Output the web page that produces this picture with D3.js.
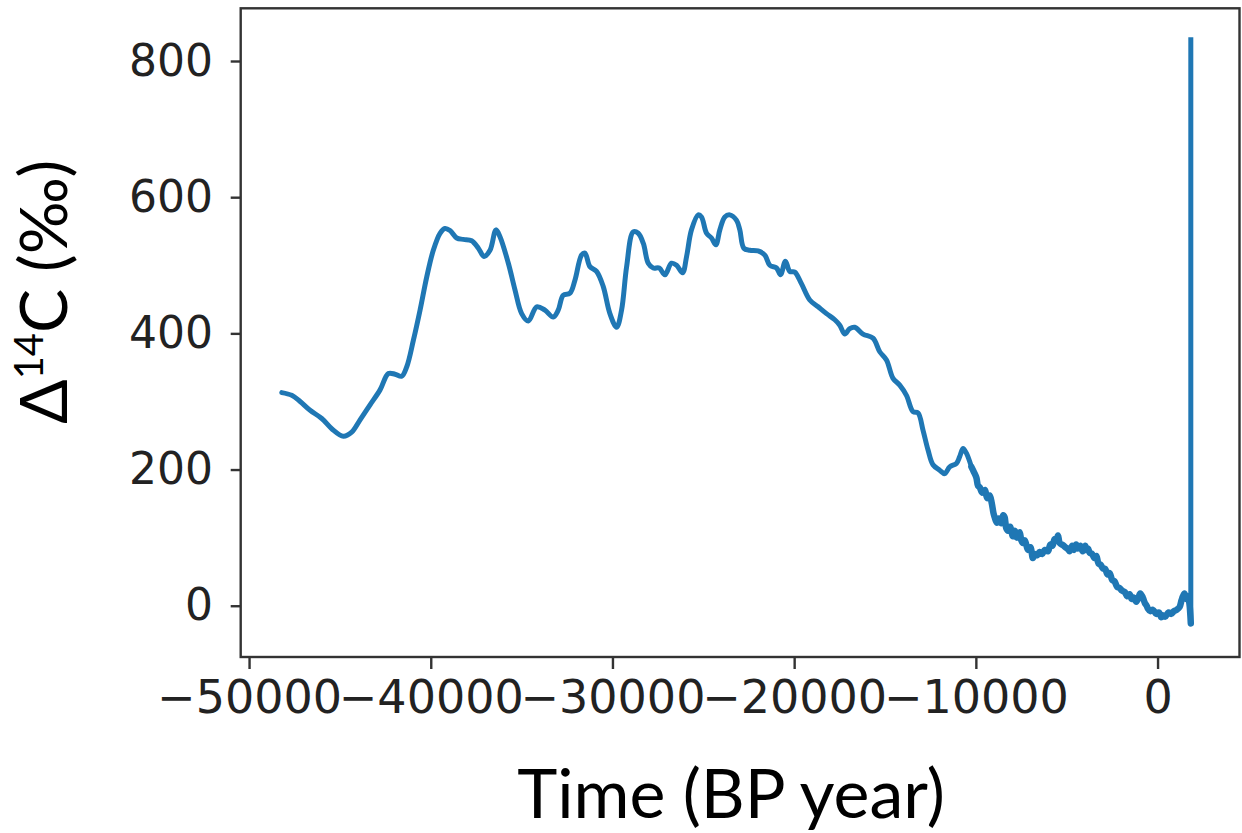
<!DOCTYPE html>
<html>
<head>
<meta charset="utf-8">
<script src="https://cdn.jsdelivr.net/npm/d3@7"></script>
<style>
  body { margin: 0; background: #fff; }
  svg { display: block; }
</style>
</head>
<body>
<svg id="chart" width="1242" height="833"></svg>
<script>
// Radiocarbon record: time (years, BP scale) and Δ14C (‰)
const years = [
  -48200, -47650, -47190, -46640, -46000, -45450, -44810, -44350, -43890, -43340,
  -42790, -42330, -41965, -41600, -41320, -40955, -40590, -40220, -39860, -39490,
  -39215, -38940, -38570, -38200, -37750, -37380, -37070, -36740, -36410, -36190,
  -35730, -35365, -34997, -34630, -34170, -33715, -33260, -32985, -32710, -32340,
  -32065, -31700, -31515, -31240, -30875, -30510, -30140, -29770, -29500, -29220,
  -28855, -28580, -28300, -28030, -27755, -27425, -27115, -26750, -26470, -26140,
  -25920, -25650, -25280, -25100, -24820, -24550, -24310, -24090, -23815, -23540,
  -23170, -22990, -22770, -22440, -21985, -21615, -21340, -20970, -20750, -20480,
  -20240, -19965, -19600, -19140, -18680, -18220, -17765, -17490, -17215, -16940,
  -16665, -16210, -15660, -15290, -14920, -14560, -14190, -13820, -13460, -13180,
  -12910, -12635, -12360, -11990, -11715, -11440, -11070, -10890, -10705, -10520,
  -10245, -10100, -9970, -9880, -9790, -9650, -9500, -9380, -9240, -9120,
  -9030, -8965, -8850, -8740, -8600, -8500, -8415, -8330, -8230, -8120,
  -7960, -7850, -7750, -7590, -7500, -7410, -7300, -7135, -7000, -6860,
  -6750, -6620, -6490, -6350, -6200, -6030, -5900, -5780, -5665, -5560,
  -5480, -5380, -5205, -5080, -4960, -4840, -4700, -4600, -4480, -4380,
  -4250, -4120, -3980, -3920, -3820, -3740, -3600, -3470, -3370, -3250,
  -3130, -3010, -2880, -2760, -2640, -2500, -2370, -2230, -2090, -1950,
  -1800, -1680, -1540, -1420, -1300, -1170, -1050, -950, -810, -700,
  -600, -535, -400, -250, -70, 80, 200, 290, 420, 600,
  750, 900, 1050, 1210, 1320, 1400, 1485, 1580, 1670, 1750,
  1830, 1830
];
const delta14C = [
  313, 309, 300, 287, 275, 260, 249, 255, 273, 295,
  317, 341, 340, 337, 351, 390, 434, 483, 522, 547,
  554, 551, 540, 538, 536, 525, 513, 522, 552, 542,
  503, 464, 429, 418, 439, 434, 424, 434, 456, 459,
  478, 515, 518, 498, 491, 469, 429, 409, 434, 498,
  549, 547, 532, 503, 496, 496, 486, 503, 500, 489,
  513, 552, 574, 571, 547, 540, 530, 552, 571, 574,
  566, 552, 525, 522, 521, 515, 500, 496, 486, 506,
  491, 490, 473, 449, 439, 429, 420, 412, 399, 407,
  409, 399, 393, 373, 361, 334, 324, 309, 285, 283,
  258, 229, 207, 199, 194, 204, 209, 219, 231, 224,
  204, 196, 188, 176, 174, 166, 170, 158, 162, 150,
  136, 130, 122, 128, 121, 133, 130, 114, 110, 116,
  102, 110, 100, 108, 96, 92, 96, 82, 86, 70,
  76, 74, 79, 76, 82, 80, 90, 88, 98, 96,
  103, 92, 89, 86, 84, 80, 88, 82, 90, 84,
  88, 80, 88, 82, 84, 78, 76, 70, 73, 62,
  60, 55, 54, 46, 48, 38, 36, 28, 26, 22,
  20, 14, 17, 10, 12, 6, 12, 18, 12, 4,
  0, -4, -8, -6, -12, -10, -17, -14, -16, -10,
  -12, -8, -6, -2, 8, 14, 18, 10, 14, 4,
  -26, 835
];

const xTicks = [-50000, -40000, -30000, -20000, -10000, 0];
const yTicks = [0, 200, 400, 600, 800];
const xTitle = "Time (BP year)";

const svg = d3.select("#chart");

// plot frame
const frame = { left: 240.7, right: 1239.5, top: 8.3, bottom: 657 };

const x = d3.scaleLinear().domain([-50460, 4510]).range([frame.left, frame.right]);
const y = d3.scaleLinear().domain([-75.3, 877.4]).range([frame.bottom, frame.top]);

const points = years.map((t, i) => [t, delta14C[i]]);
const n = points.length;

// the Holocene part of the record is noisier and reads as a denser band
const noisyStart = years.findIndex(t => t >= -10300);

const smooth = d3.line().curve(d3.curveCatmullRom.alpha(0.5))
  .x(d => x(d[0])).y(d => y(d[1]));
const straight = d3.line().x(d => x(d[0])).y(d => y(d[1]));

const lineGroup = svg.append("g")
  .attr("fill", "none")
  .attr("stroke", "#1f77b4")
  .attr("stroke-linejoin", "round")
  .attr("stroke-linecap", "round");

lineGroup.append("path")
  .attr("stroke-width", 5)
  .attr("d", smooth(points.slice(0, noisyStart + 1)));

lineGroup.append("path")
  .attr("stroke-width", 6.5)
  .attr("d", smooth(points.slice(noisyStart, n - 1)));

// final jump of the record
lineGroup.append("path")
  .attr("stroke-width", 5)
  .attr("stroke-linecap", "butt")
  .attr("d", straight(points.slice(n - 2)));

// frame
svg.append("rect")
  .attr("x", frame.left).attr("y", frame.top)
  .attr("width", frame.right - frame.left).attr("height", frame.bottom - frame.top)
  .attr("fill", "none")
  .attr("stroke", "#333")
  .attr("stroke-width", 2.4);

const tickFont = "'DejaVu Sans', sans-serif";

// x axis
const gx = svg.append("g")
  .attr("transform", `translate(0,${frame.bottom})`)
  .call(d3.axisBottom(x).tickValues(xTicks).tickSize(12).tickPadding(11)
        .tickFormat(d3.format("d")));
gx.select(".domain").remove();
gx.selectAll(".tick line").attr("stroke", "#333").attr("stroke-width", 2.4);
gx.selectAll(".tick text")
  .attr("fill", "#222")
  .style("font-family", tickFont)
  .style("font-size", "46px");

// y axis
const gy = svg.append("g")
  .attr("transform", `translate(${frame.left},0)`)
  .call(d3.axisLeft(y).tickValues(yTicks).tickSize(10).tickPadding(17.7)
        .tickFormat(d3.format("d")));
gy.select(".domain").remove();
gy.selectAll(".tick line").attr("stroke", "#333").attr("stroke-width", 2.4);
gy.selectAll(".tick text")
  .attr("fill", "#222")
  .style("font-family", tickFont)
  .style("font-size", "44px");

// axis titles
const titleFont = "Lato, 'Open Sans', sans-serif";

svg.append("text")
  .attr("x", 731)
  .attr("y", 818)
  .attr("text-anchor", "middle")
  .attr("fill", "#000")
  .style("font-family", titleFont)
  .style("font-size", "68px")
  .text(xTitle);

const yt = svg.append("text")
  .attr("transform", "translate(67,292) rotate(-90)")
  .attr("text-anchor", "middle")
  .attr("fill", "#000")
  .style("font-family", titleFont)
  .style("font-size", "66px");
yt.append("tspan").text("Δ");
yt.append("tspan").attr("dy", -24).style("font-size", "40px").text("14");
yt.append("tspan").attr("dy", 24).text("C (‰)");
</script>
</body>
</html>
